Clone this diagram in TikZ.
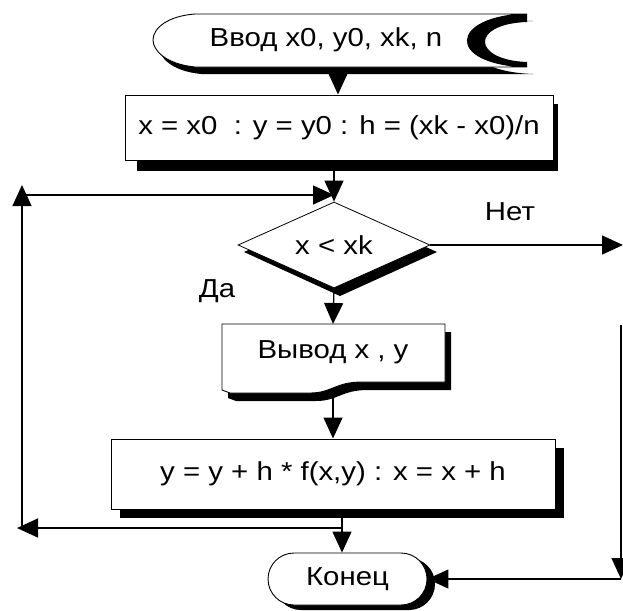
\documentclass[tikz,border=0pt]{standalone}
\usepackage{fontspec}
\setmainfont[FakeStretch=1.13]{Liberation Sans}
\usetikzlibrary{arrows.meta,shapes.geometric}
\begin{document}
\begin{tikzpicture}[x=1pt,y=-1pt,
  txt/.style={font=\fontsize{26}{29}\selectfont, inner sep=0pt},
  arr/.style={-{Triangle[length=21pt,width=19pt]}, line width=1.3pt},
  boxnode/.style={draw, fill=white, line width=1pt, rectangle, inner sep=0pt, txt},
  shade/.style={fill=black}]
\useasboundingbox (0,0) rectangle (623,610);
\fill[white] (0,0) rectangle (623,610);

% ---- input (display) shape ----
\fill[shade, shift={(6,7)}] (195,14) -- (527,14) .. controls (450,16) and (445,64) .. (527,67) -- (195,67) .. controls (165,64) and (153,50) .. (153,40) .. controls (153,28) and (168,16) .. (195,14) -- cycle;
\filldraw[fill=white, line width=0.9pt] (195,14) -- (527,14) .. controls (450,16) and (445,64) .. (527,67) -- (195,67) .. controls (165,64) and (153,50) .. (153,40) .. controls (153,28) and (168,16) .. (195,14) -- cycle;
\fill[shade] (527,14) .. controls (450,16) and (445,64) .. (527,67) -- (527,62) .. controls (472,60) and (470,24) .. (527,22) -- cycle;
\node[txt] (in) at (326,40) {Ввод x0, y0, xk, n};
\coordinate (inS) at (338,74);

% ---- box 1 ----
\fill[shade] (137,104) rectangle (558,171);
\node[boxnode, minimum width=428pt, minimum height=65pt] (b1) at (339,127.5) {x = x0 \ : y = y0 : h = (xk - x0)/n};

% ---- decision ----
\fill[shade] (244,252) -- (340,209) -- (437,252) -- (340,296) -- cycle;
\node[diamond, draw, fill=white, line width=0.8pt, minimum width=192pt, minimum height=86pt, aspect=2.23, inner sep=0pt, txt] (d) at (334,245) {x < xk};

% ---- output (document) shape ----
\fill[shade, shift={(6,8)}] (222,324) -- (445,324) -- (445,382) -- (362,382) .. controls (335,382) and (332,393) .. (310,393) -- (230,393) -- (222,390) -- cycle;
\filldraw[fill=white, line width=0.9pt] (222,324) -- (445,324) -- (445,382) -- (362,382) .. controls (335,382) and (332,393) .. (310,393) -- (230,393) -- (222,390) -- cycle;
\node[txt] (v) at (333,352) {Вывод x , y};
\coordinate (vt) at (333,324);
\coordinate (vb) at (333,396);

% ---- box 3 ----
\fill[shade] (120,448) rectangle (564,518);
\node[boxnode, minimum width=444pt, minimum height=70pt] (b3) at (333,474) {y = y + h * f(x,y) : x = x + h};

% ---- end terminal ----
\fill[shade, rounded corners=26pt] (275,558) rectangle (435,610);
\node[draw, fill=white, line width=0.9pt, rounded corners=26pt, minimum width=159pt, minimum height=52pt, txt] (k) at (347.5,579) {Конец};

% ---- coordinates for loop lines ----
\coordinate (j) at (342,528);
\coordinate (lb) at (22,528);
\coordinate (la) at (17,528);
\coordinate (lt) at (22,185);
\coordinate (lh) at (22,195);
\coordinate (re) at (623,245);
\coordinate (rt) at (621,325);
\coordinate (rb) at (621,579);

% ---- connectors ----
\draw[arr] (inS) -- (inS |- b1.north);
\draw[arr] (b1.south -| d.north) -- (d.north);
\draw[arr] (d.south) -- (vt);
\draw[arr] (vb) -- (b3.north);
\draw[arr] (b3.south -| j) -- (j |- k.north);
\draw[arr] (j) -- (la);
\draw[arr] (lb) -- (lt);
\draw[arr] (lh) -- (lh -| d.north);
\draw[arr] (d.east) -- (re);
\draw[arr] (rt) -- (rb);
\draw[arr] (rb) -- (k.east);

% ---- labels ----
\node[txt] (net) at (510,212) {Нет};
\node[txt] (da) at (217,291) {Да};
\end{tikzpicture}
\end{document}
